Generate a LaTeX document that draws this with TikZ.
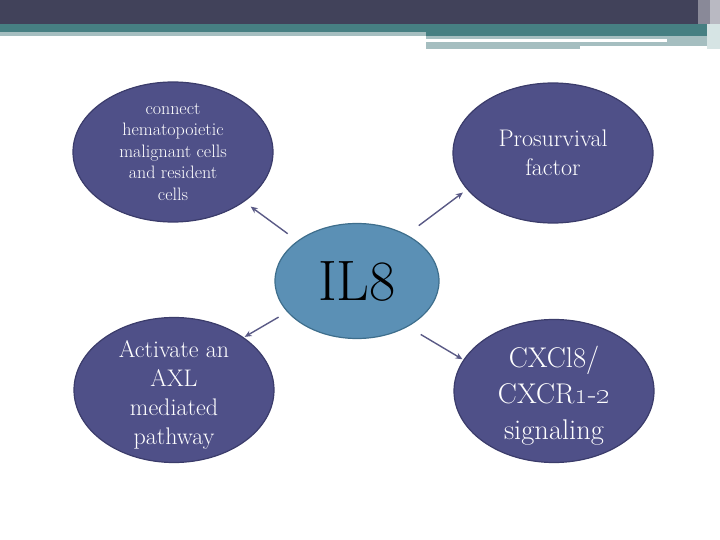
\documentclass[tikz,border=0pt]{standalone}
\usetikzlibrary{shapes.geometric,arrows.meta}
\definecolor{hdrdark}{HTML}{41425A}
\definecolor{hdrteal}{HTML}{467F82}
\definecolor{hdrlight}{HTML}{A5BEC0}
\definecolor{hdrpale}{HTML}{D6E4E4}
\definecolor{hdrgray}{HTML}{B9B9C2}
\definecolor{bubblefill}{HTML}{4F5088}
\definecolor{bubbleline}{HTML}{3B3C6B}
\definecolor{corefill}{HTML}{5B90B5}
\definecolor{coreline}{HTML}{3E6E8C}
\definecolor{arrowcol}{HTML}{5A5A86}
\begin{document}
\begin{tikzpicture}[
        x=1pt, y=-1pt,
        bubble/.style={ellipse, draw=bubbleline, fill=bubblefill, line width=1.2pt,
            minimum width=200pt, minimum height=140pt, inner sep=-10pt,
            align=center, text=white},
        core/.style={ellipse, draw=coreline, fill=corefill, line width=1.2pt,
            minimum width=164pt, minimum height=115pt, inner sep=-6pt},
        link/.style={draw=arrowcol, line width=1.4pt, -{Stealth[length=7pt,width=6pt]}},
        ]
    \useasboundingbox (0,0) rectangle (720,540);
    % slide header
    \fill[hdrdark] (0,0) rectangle (720,24);
    \fill[hdrteal] (0,24) rectangle (720,36);
    \fill[hdrlight] (0,32) rectangle (426,36);
    \fill[hdrlight] (426,36) rectangle (707,46);
    \fill[white] (426,39) rectangle (667,42);
    \fill[hdrlight] (426,46) rectangle (580,49);
    \fill[hdrgray!60!hdrdark] (698,0) rectangle (710,24);
    \fill[hdrgray] (710,0) rectangle (720,24);
    \fill[hdrpale] (707,24) rectangle (720,49);
    % centre and the four effects
    \node (il8) [core, font=\fontsize{57}{60}\selectfont] at (357,281) {IL8};
    \node (conn) [bubble, font=\fontsize{18}{21.5}\selectfont] at (173,152)
        {connect\\hematopoietic\\malignant cells\\and resident\\cells};
    \node (surv) [bubble, font=\fontsize{24}{29}\selectfont] at (553,153)
        {Prosurvival\\factor};
    \node (axl) [bubble, minimum height=145pt, font=\fontsize{24}{29}\selectfont] at (174,390)
        {\rule{0pt}{27pt}Activate an\\AXL\\mediated\\pathway};
    \node (cxcl) [bubble, minimum height=143pt, font=\fontsize{28.5}{36}\selectfont] at (554,391)
        {\rule{0pt}{30pt}CXCl8/\\CXCR\oldstylenums{1}-\oldstylenums{2}\\signaling};
    % arrows
    \draw[link, shorten <=12pt, shorten >=8pt] (il8.146) -- (conn.325);
    \draw[link, shorten <=15pt, shorten >=5pt] (il8.43) -- (surv.203);
    \draw[link, shorten <=10pt, shorten >=1pt] (il8.204) -- (axl.37);
    \draw[link, shorten <=15pt, shorten >=1pt] (il8.318) -- (cxcl.161);
\end{tikzpicture}
\end{document}
